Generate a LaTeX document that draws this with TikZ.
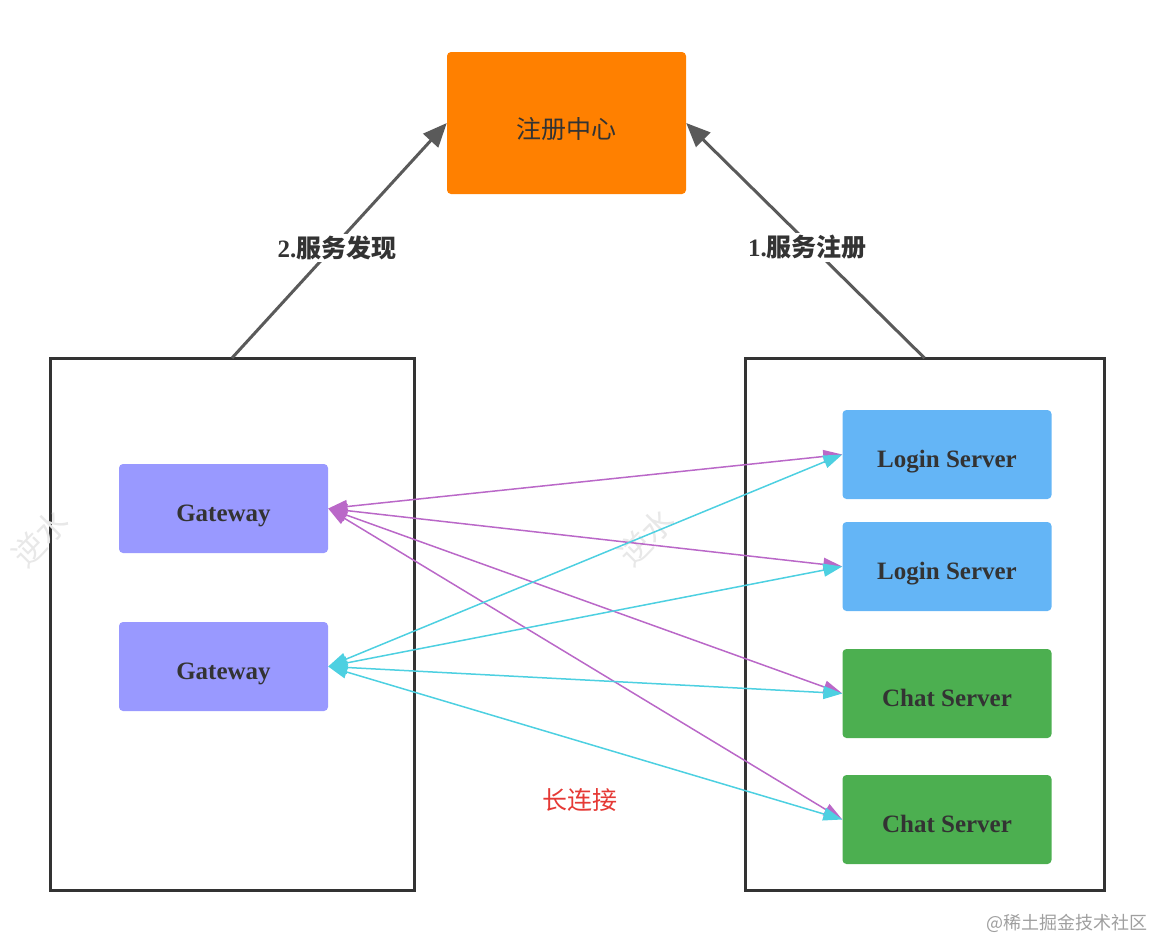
\documentclass[tikz,border=0pt]{standalone}
\usepackage{fontspec}
\setmainfont{Liberation Serif}
\newfontfamily\cjk{Noto Sans CJK SC}
\usetikzlibrary{arrows.meta}
\definecolor{regorange}{HTML}{FF8000}
\definecolor{gwpurple}{HTML}{9999FF}
\definecolor{loginblue}{HTML}{64B5F6}
\definecolor{chatgreen}{HTML}{4CAF50}
\definecolor{textgray}{HTML}{333333}
\definecolor{framegray}{HTML}{333333}
\definecolor{arrowgray}{HTML}{5A5A5A}
\definecolor{linkpurple}{HTML}{BA68C8}
\definecolor{linkcyan}{HTML}{4DD0E1}
\definecolor{linkred}{HTML}{E53935}
\definecolor{markgray}{HTML}{E8E8E8}
\begin{document}
\begin{tikzpicture}[x=1pt,y=-1pt,
  box/.style={rounded corners=4pt, minimum width=209pt, minimum height=89pt, inner sep=0pt, text height=25pt, text depth=0pt, text=textgray, font=\fontsize{25}{30}\selectfont\bfseries},
  frame/.style={draw=framegray, line width=3pt},
  regarrow/.style={draw=arrowgray, line width=3pt, -{Triangle[length=24pt,width=20pt]}},
  reglabel/.style={fill=white, inner sep=2pt, text=textgray, font=\fontsize{25}{28}\selectfont\bfseries},
  gwlink/.style={line width=1.5pt, {Triangle[length=19pt,width=13pt]}-{Triangle[length=19pt,width=13pt]}},
  wmark/.style={text=markgray, font=\cjk\fontsize{32}{34}\selectfont, rotate=45}
]
\useasboundingbox (0,0) rectangle (1153,940);
% registry
\node [box, fill=regorange, minimum width=239pt, minimum height=142pt, text height=30pt, font=\cjk\fontsize{25}{30}\selectfont] (reg) at (566.5,123) {注册中心};
% containers
\draw [frame] (50,358) rectangle (414,890);
\draw [frame] (745,358) rectangle (1104,890);
\coordinate (lefttop) at (232,358);
\coordinate (righttop) at (924.5,358);
% watermarks
\node [wmark] (mark1) at (40,538) {逆水};
\node [wmark] (mark2) at (646,537) {逆水};
% gateways
\node [box, fill=gwpurple] (gw1) at (223.5,508.5) {Gateway};
\node [box, fill=gwpurple] (gw2) at (223.5,666.5) {Gateway};
% servers
\node [box, fill=loginblue] (login1) at (947,454.5) {Login Server};
\node [box, fill=loginblue] (login2) at (947,566.5) {Login Server};
\node [box, fill=chatgreen] (chat1) at (947,693.5) {Chat Server};
\node [box, fill=chatgreen] (chat2) at (947,819.5) {Chat Server};
% register / discover
\draw [regarrow] (lefttop) -- (reg.west) node [reglabel, pos=0.47, xshift=4pt] (discover) {2.{\cjk 服务发现}};
\draw [regarrow] (righttop) -- (reg.east) node [reglabel, pos=0.47, xshift=-5pt] (register) {1.{\cjk 服务注册}};
% long connections
\draw [gwlink, linkpurple] (gw1.east) -- (login1.west);
\draw [gwlink, linkpurple] (gw1.east) -- (login2.west);
\draw [gwlink, linkpurple] (gw1.east) -- (chat1.west);
\draw [gwlink, linkpurple] (gw1.east) -- (chat2.west);
\draw [gwlink, linkcyan] (gw2.east) -- (login1.west);
\draw [gwlink, linkcyan] (gw2.east) -- (login2.west);
\draw [gwlink, linkcyan] (gw2.east) -- (chat1.west);
\draw [gwlink, linkcyan] (gw2.east) -- (chat2.west);
\node [text=linkred, font=\cjk\fontsize{25}{28}\selectfont] (longlink) at (580,800) {长连接};
\node [text=gray!75, font=\cjk\fontsize{18}{20}\selectfont] (site) at (1067,923) {@稀土掘金技术社区};
\end{tikzpicture}
\end{document}
